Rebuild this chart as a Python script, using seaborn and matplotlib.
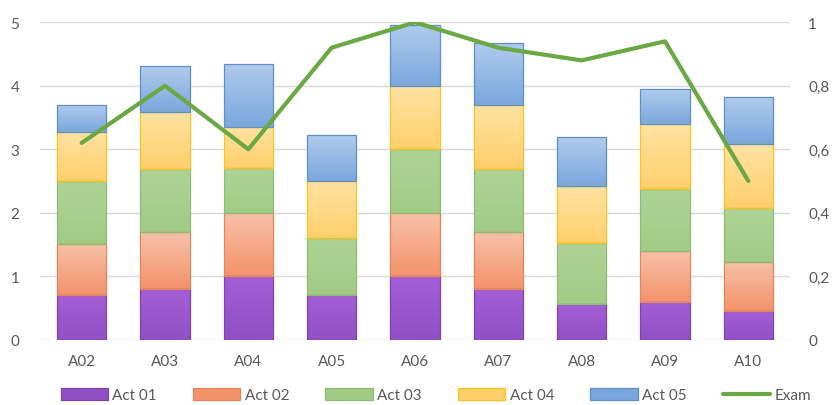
import numpy as np
import matplotlib
matplotlib.use("Agg")
import matplotlib.pyplot as plt
import seaborn as sns
from matplotlib.patches import Patch
from matplotlib.lines import Line2D
from matplotlib.colors import to_rgb

categories = ["A02", "A03", "A04", "A05", "A06", "A07", "A08", "A09", "A10"]
act01 = [0.70, 0.80, 1.00, 0.70, 1.00, 0.80, 0.56, 0.60, 0.45]
act02 = [0.80, 0.89, 1.00, 0.00, 1.00, 0.89, 0.00, 0.80, 0.78]
act03 = [1.00, 1.00, 0.70, 0.90, 1.00, 1.00, 0.96, 0.98, 0.84]
act04 = [0.77, 0.90, 0.65, 0.90, 1.00, 1.00, 0.90, 1.02, 1.02]
act05 = [0.43, 0.72, 1.00, 0.72, 0.95, 0.99, 0.77, 0.55, 0.74]
exam = [0.62, 0.80, 0.60, 0.92, 1.00, 0.92, 0.88, 0.94, 0.50]

series_names = ["Act 01", "Act 02", "Act 03", "Act 04", "Act 05"]
series = [act01, act02, act03, act04, act05]
# (top colour, bottom colour, edge colour)
styles = [
    ("#a45fd6", "#9150c4", "#7a45b0"),
    ("#f7c1a8", "#f3936b", "#e9845a"),
    ("#aed495", "#a2cb86", "#8dbb72"),
    ("#ffe3a2", "#ffcf6c", "#ffc21c"),
    ("#b0cbec", "#7aa7dd", "#5e8fce"),
]
exam_color = "#6aa843"
text_color = "#595959"

sns.set_style("white")
plt.rcParams["font.family"] = ["Lato", "DejaVu Sans"]

fig = plt.figure(figsize=(8.39, 4.06), dpi=100)
ax = fig.add_axes([40 / 839, 1 - 340.7 / 406, 750 / 839, 317.4 / 406])

bottom = np.zeros(len(categories))
for name, vals, (ctop, cbot, cedge) in zip(series_names, series, styles):
    n_before = len(ax.patches)
    sns.barplot(x=categories, y=vals, bottom=bottom, color=ctop, width=0.59,
                edgecolor=cedge, linewidth=0.9, saturation=1, ax=ax)
    grad = np.linspace(0, 1, 64)[:, None]
    rgb = np.array(to_rgb(ctop)) * (1 - grad[..., None]) + np.array(to_rgb(cbot)) * grad[..., None]
    for p in ax.patches[n_before:]:
        x0, y0 = p.get_x(), p.get_y()
        w, h = p.get_width(), p.get_height()
        if h <= 0:
            p.set_linewidth(0)
            continue
        p.set_facecolor("none")
        p.set_zorder(2)
        im = ax.imshow(rgb, extent=[x0, x0 + w, y0, y0 + h], aspect="auto",
                       zorder=1.5, interpolation="bilinear")
        im.set_clip_path(p)
    bottom = bottom + np.array(vals)

ax.set_xlim(-0.5, len(categories) - 0.5)
ax.set_ylim(0, 5)
ax.set_yticks(range(6))
ax.yaxis.grid(True, color="#d9d9d9", linewidth=1)
ax.set_axisbelow(True)
for s in ax.spines.values():
    s.set_visible(False)
ax.tick_params(axis="both", length=0, labelsize=11, colors=text_color)
ax.tick_params(axis="x", pad=10)
ax.tick_params(axis="y", pad=15)

ax2 = ax.twinx()
sns.lineplot(x=np.arange(len(categories)), y=exam, color=exam_color,
             linewidth=3, ax=ax2)
ax2.set_ylim(0, 1)
ax2.set_yticks([0, 0.2, 0.4, 0.6, 0.8, 1])
ax2.set_yticklabels(["0", "0,2", "0,4", "0,6", "0,8", "1"])
ax2.tick_params(axis="y", length=0, labelsize=11, colors=text_color, pad=13)
for s in ax2.spines.values():
    s.set_visible(False)
ax2.set_xlim(-0.5, len(categories) - 0.5)

handles = [Patch(facecolor=st[1], edgecolor=st[2], linewidth=0.9, label=n)
           for n, st in zip(series_names, styles)]
handles.append(Line2D([0], [0], color=exam_color, linewidth=3, label="Exam"))
fig.legend(handles=handles, loc="center", bbox_to_anchor=(436 / 839, 1 - 396 / 406),
           ncol=6, frameon=False, fontsize=11, labelcolor=text_color,
           handlelength=3.1, handleheight=0.9, handletextpad=0.3,
           columnspacing=2.35, borderaxespad=0)

fig.savefig("out.png", dpi=100)
